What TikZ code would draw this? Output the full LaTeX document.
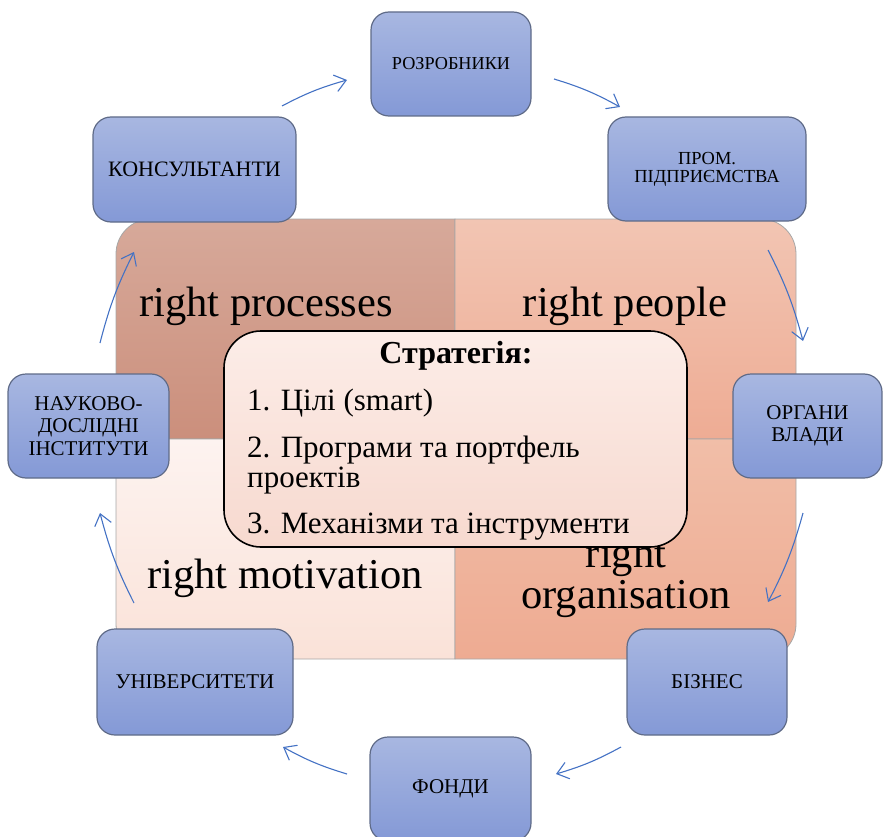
\documentclass[tikz,border=0pt]{standalone}
\usepackage{fontspec}
\setmainfont{Liberation Serif}
\usetikzlibrary{arrows.meta,positioning}

\definecolor{boxtop}{HTML}{A8B7E1}
\definecolor{boxbot}{HTML}{8499D6}
\definecolor{boxline}{HTML}{5F6B88}
\definecolor{arrowblue}{HTML}{4472C4}
\definecolor{proctop}{HTML}{D7A99A}
\definecolor{procbot}{HTML}{CB8F7C}
\definecolor{peoptop}{HTML}{F2C5B3}
\definecolor{peopbot}{HTML}{EEAC94}
\definecolor{mottop}{HTML}{FDF3F0}
\definecolor{motbot}{HTML}{FAE2D8}
\definecolor{orgtop}{HTML}{F1BEA8}
\definecolor{orgbot}{HTML}{EEAB92}
\definecolor{strattop}{HTML}{FCEDE8}
\definecolor{stratbot}{HTML}{F7D9CF}

\tikzset{
  member/.style={draw=boxline, line width=1.2pt, rounded corners=18pt,
    top color=boxtop, bottom color=boxbot, align=center,
    font=\fontsize{21}{22.5}\selectfont, inner sep=2pt},
  quarter/.style={draw=gray!70, line width=0.8pt},
  label/.style={font=\fontsize{42.5}{41}\selectfont, align=center, anchor=base},
  item/.style={font=\fontsize{31}{30}\selectfont, align=left, anchor=base west, inner sep=0pt},
  cycle/.style={draw=arrowblue, line width=1.1pt, -{Straight Barb[length=11pt,width=17pt]}, bend left=6}
}

\begin{document}
\begin{tikzpicture}[x=1pt,y=-1pt]
  \useasboundingbox (0,0) rectangle (883,837);
  % matrix of four quarters
  \shade[quarter, top color=proctop, bottom color=procbot]
    (455,439) -- (116,439) [rounded corners=35pt] -- (116,219) [sharp corners] -- (455,219) -- cycle;
  \shade[quarter, top color=peoptop, bottom color=peopbot]
    (455,219) [rounded corners=35pt] -- (796,219) [sharp corners] -- (796,439) -- (455,439) -- cycle;
  \shade[quarter, top color=mottop, bottom color=motbot]
    (455,439) -- (455,659) [rounded corners=35pt] -- (116,659) [sharp corners] -- (116,439) -- cycle;
  \shade[quarter, top color=orgtop, bottom color=orgbot]
    (455,439) -- (796,439) [rounded corners=35pt] -- (796,659) [sharp corners] -- (455,659) -- cycle;

  % base of a node with several lines is its last line
  \node[label] (processes)    at (266,316) {right processes};
  \node[label] (people)       at (625,316) {right people};
  \node[label] (motivation)   at (285,588) {right motivation};
  \node[label] (organisation) at (626,608) {right\\organisation};

  % strategy box
  \node[draw=black, line width=1.6pt, rounded corners=37pt,
        top color=strattop, bottom color=stratbot,
        minimum width=463pt, minimum height=216pt] (strategy) at (455.5,439) {};
  \node[font=\fontsize{32}{32}\selectfont\bfseries, anchor=base] (title) at (456,363) {Стратегія:};
  \node[item] (goals)  at (247,410) {1. Цілі (smart)};
  \node[item] (progs)  at (247,487) {2. Програми та портфель\\проектів};
  \node[item] (tools)  at (247,533) {3. Механізми та інструменти};

  % participants
  \node[member, minimum width=160pt, minimum height=104pt,
        font=\fontsize{18.2}{19}\selectfont]              (developers) at (451,64)    {РОЗРОБНИКИ};
  \node[member, minimum width=198pt, minimum height=104pt,
        font=\fontsize{18.4}{18}\selectfont]              (industry)   at (707,169)   {ПРОМ.\\ПІДПРИЄМСТВА};
  \node[member, minimum width=203pt, minimum height=105pt,
        font=\fontsize{22}{23}\selectfont]                (consultants) at (194.5,169.5) {КОНСУЛЬТАНТИ};
  \node[member, minimum width=161pt, minimum height=104pt] (institutes) at (88.5,426)  {НАУКОВО-\\ДОСЛІДНІ\\ІНСТИТУТИ};
  \node[member, minimum width=149pt, minimum height=104pt] (authorities) at (807.5,426) {ОРГАНИ\\ВЛАДИ};
  \node[member, minimum width=160pt, minimum height=106pt] (business)   at (707,682)   {БІЗНЕС};
  \node[member, minimum width=161pt, minimum height=104pt] (funds)      at (450.5,789) {ФОНДИ};
  \node[member, minimum width=196pt, minimum height=106pt] (universities) at (195,682) {УНІВЕРСИТЕТИ};

  % cycle arrows
  \coordinate (c1a) at (282,106); \coordinate (c1b) at (347,80);
  \coordinate (c2a) at (554,79);  \coordinate (c2b) at (620,107);
  \coordinate (c3a) at (768,250); \coordinate (c3b) at (803,341);
  \coordinate (c4a) at (803,513); \coordinate (c4b) at (768,602);
  \coordinate (c5a) at (621,747); \coordinate (c5b) at (556,774);
  \coordinate (c6a) at (347,774); \coordinate (c6b) at (283,747);
  \coordinate (c7a) at (134,603); \coordinate (c7b) at (100,513);
  \coordinate (c8a) at (100,343); \coordinate (c8b) at (134,252);
  \foreach \i in {1,...,8}
    \draw[cycle] (c\i a) to (c\i b);
\end{tikzpicture}
\end{document}
